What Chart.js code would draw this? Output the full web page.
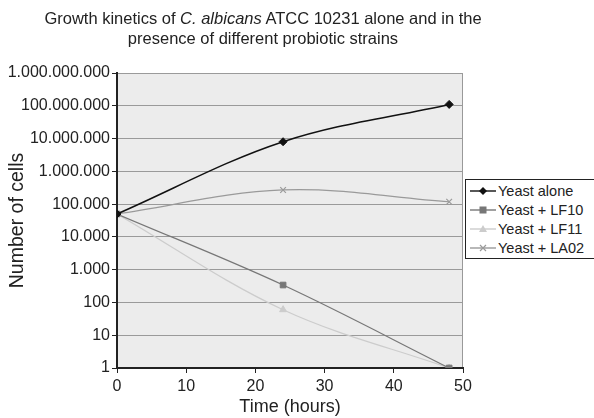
<!DOCTYPE html>
<html>
<head>
<meta charset="utf-8">
<script src="https://cdn.jsdelivr.net/npm/chart.js@4"></script>
<style>
	body { margin: 0; background: #fff; font-family: "Liberation Sans", Arial, sans-serif; }
	#wrap { position: relative; width: 594px; height: 418px; }
	#title { position: absolute; left: 0; top: 8px; width: 526px; text-align: center; font-size: 16.5px; line-height: 20px; color: #222; }
	#legend { position: absolute; left: 465px; top: 179px; width: 140px; border: 1px solid #222; background: #fff; padding: 1px 0; }
	#legend div { height: 19px; font-size: 14.5px; color: #222; display: flex; align-items: center; }
	#legend svg { margin: 0 2px 0 4px; }
	canvas { position: absolute; left: 0; top: 0; }
</style>
</head>
<body>
<div id="wrap">
	<canvas id="chart" width="594" height="418"></canvas>
	<div id="title">Growth kinetics of <i>C. albicans</i> ATCC 10231 alone and in the<br>presence of different probiotic strains</div>
	<div id="legend"></div>
</div>
<script>
// Time points (hours)
const hours = [0, 24, 48];
const yeastAlone = [50000, 8000000, 110000000];
const yeastLF10 = [50000, 340, 1];
const yeastLF11 = [50000, 60, 1];
const yeastLA02 = [50000, 270000, 118000];
const yTicks = [1, 10, 100, 1000, 10000, 100000, 1000000, 10000000, 100000000, 1000000000];
const xTicks = [0, 10, 20, 30, 40, 50];

function dots(v) {
	return String(Math.round(v)).replace(/\B(?=(\d{3})+(?!\d))/g, '.');
}

function toPoints(arr) {
	return hours.map((h, i) => ({ x: h, y: arr[i] }));
}

const series = [
	{ label: 'Yeast alone', data: yeastAlone, color: '#111', marker: 'rectRot', r: 4 },
	{ label: 'Yeast + LF10', data: yeastLF10, color: '#777', marker: 'rect', r: 4 },
	{ label: 'Yeast + LF11', data: yeastLF11, color: '#ccc', marker: 'triangle', r: 4 },
	{ label: 'Yeast + LA02', data: yeastLA02, color: '#9a9a9a', marker: 'crossRot', r: 4 }
];

const plotBg = {
	id: 'plotBg',
	beforeDraw(chart) {
		const { ctx, chartArea: a } = chart;
		ctx.save();
		ctx.fillStyle = '#ececec';
		ctx.fillRect(a.left, a.top, a.right - a.left, a.bottom - a.top);
		ctx.strokeStyle = '#999';
		ctx.lineWidth = 1;
		ctx.beginPath();
		ctx.moveTo(a.left, a.top + 0.5);
		ctx.lineTo(a.right - 0.5, a.top + 0.5);
		ctx.lineTo(a.right - 0.5, a.bottom);
		ctx.stroke();
		ctx.restore();
	}
};

Chart.defaults.font.family = '"Liberation Sans", Arial, sans-serif';
Chart.defaults.color = '#222';

new Chart(document.getElementById('chart'), {
	type: 'line',
	data: {
		datasets: series.map(s => ({
			label: s.label,
			data: toPoints(s.data),
			borderColor: s.color,
			backgroundColor: s.color,
			borderWidth: s.label === 'Yeast alone' ? 1.5 : 1.2,
			pointStyle: s.marker,
			pointRadius: s.r,
			pointBorderWidth: s.marker === 'crossRot' ? 1.2 : 1,
			tension: 0.35,
			fill: false
		}))
	},
	options: {
		responsive: false,
		animation: false,
		layout: { padding: { left: 4, right: 131, top: 73, bottom: 0 } },
		plugins: {
			legend: { display: false },
			title: { display: false },
			tooltip: { enabled: false }
		},
		scales: {
			x: {
				type: 'linear',
				min: 0,
				max: 50,
				afterBuildTicks: s => { s.ticks = xTicks.map(v => ({ value: v })); },
				afterFit: s => { s.height = 50; },
				border: { color: '#222', width: 2 },
				grid: { drawOnChartArea: false, tickLength: 5, tickColor: '#222' },
				ticks: { font: { size: 16 }, color: '#222', padding: 4, maxRotation: 0 },
				title: { display: true, text: 'Time (hours)', font: { size: 18 }, color: '#222', padding: { top: 0, bottom: 0 } }
			},
			y: {
				type: 'logarithmic',
				min: 1,
				max: 1000000000,
				afterBuildTicks: s => { s.ticks = yTicks.map(v => ({ value: v })); },
				afterFit: s => { s.width = 113; },
				border: { color: '#222', width: 2 },
				grid: { color: '#9a9a9a', lineWidth: 1, tickLength: 5, tickColor: '#222' },
				ticks: { font: { size: 16 }, color: '#222', padding: 2, callback: v => dots(v) },
				title: { display: true, text: 'Number of cells', font: { size: 19.5 }, color: '#222', padding: { top: 2, bottom: 0 } }
			}
		}
	},
	plugins: [plotBg]
});

// legend with line + marker glyphs
function glyph(s) {
	const c = s.color;
	let m = '';
	if (s.marker === 'rectRot') m = `<polygon points="13,3 17,7 13,11 9,7" fill="${c}"/>`;
	else if (s.marker === 'rect') m = `<rect x="9.5" y="3.5" width="7" height="7" fill="${c}"/>`;
	else if (s.marker === 'triangle') m = `<polygon points="13,3 17,10 9,10" fill="${c}"/>`;
	else m = `<path d="M10,4 L16,10 M16,4 L10,10" stroke="${c}" stroke-width="1.2"/>`;
	return `<svg width="26" height="14"><line x1="0" y1="7" x2="26" y2="7" stroke="${c}" stroke-width="1.4"/>${m}</svg>`;
}
document.getElementById('legend').innerHTML = series.map(s =>
	`<div>${glyph(s)}<span>${s.label}</span></div>`).join('');
</script>
</body>
</html>
